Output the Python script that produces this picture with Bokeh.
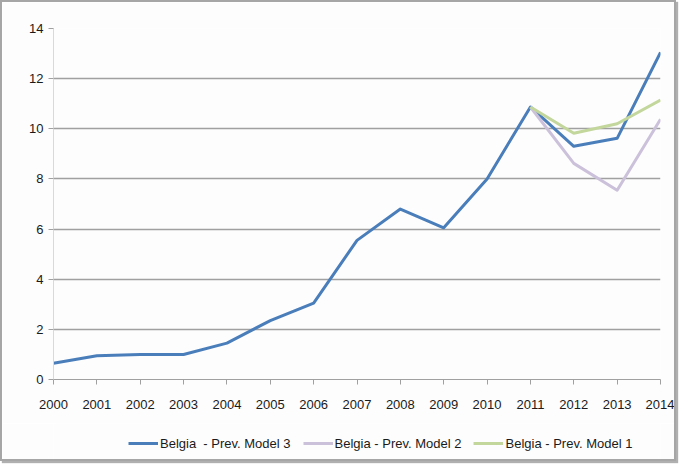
from bokeh.plotting import figure
from bokeh.models import FixedTicker, Legend, LegendItem, Range1d
from bokeh.layouts import column
from bokeh.embed import file_html
from bokeh.resources import INLINE

years = list(range(2000, 2015))
model3 = [0.65, 0.95, 1.0, 1.0, 1.45, 2.35, 3.05, 5.55, 6.8, 6.05, 8.0, 10.87, 9.3, 9.62, 13.05]
forecast_years = [2011, 2012, 2013, 2014]
model2 = [10.87, 8.62, 7.55, 10.38]
model1 = [10.87, 9.82, 10.2, 11.15]
y_ticks = [0, 2, 4, 6, 8, 10, 12, 14]
series_names = ["Belgia  - Prev. Model 3", "Belgia - Prev. Model 2", "Belgia - Prev. Model 1"]
series_colors = ["#4a7ebb", "#ccc1da", "#c3d69b"]

FONT = "Liberation Sans"
BG = "#fdfdfd"

p = figure(width=672, height=421, output_backend="svg", toolbar_location=None,
           x_range=Range1d(2000, 2014), y_range=Range1d(0, 14),
           min_border_left=51, min_border_right=14, min_border_top=26, min_border_bottom=44)
p.background_fill_color = BG
p.border_fill_color = BG
p.outline_line_color = None

p.line(years, model3, line_color=series_colors[0], line_width=3, line_join="round")
p.line(forecast_years, model2, line_color=series_colors[1], line_width=3, line_join="round")
p.line(forecast_years, model1, line_color=series_colors[2], line_width=3, line_join="round")

p.xaxis.ticker = FixedTicker(ticks=years)
p.yaxis.ticker = FixedTicker(ticks=y_ticks)
for ax in (p.xaxis[0], p.yaxis[0]):
    ax.major_label_text_font = FONT
    ax.major_label_text_font_size = "13px"
    ax.major_label_text_color = "#1a1a1a"
    ax.minor_tick_line_color = None
p.xaxis.axis_line_color = "#a0a0a0"
p.xaxis.major_tick_line_color = "#a0a0a0"
p.xaxis.major_tick_in = 0
p.xaxis.major_tick_out = 5
p.xaxis.major_label_standoff = 15
p.yaxis.axis_line_color = "#d9d9d9"
p.yaxis.major_tick_line_color = "#a0a0a0"
p.yaxis.major_tick_in = 0
p.yaxis.major_tick_out = 5
p.yaxis.major_label_standoff = 5

p.xgrid.grid_line_color = None
p.ygrid.grid_line_color = "#a0a0a0"
p.ygrid.grid_line_width = 1.5

# legend strip below the chart (series drawn out of its view, only for the legend keys)
lf = figure(width=672, height=36, output_backend="svg", toolbar_location=None,
            x_axis_location=None, y_axis_location=None,
            x_range=Range1d(0, 1), y_range=Range1d(0, 1),
            min_border_left=0, min_border_right=0, min_border_top=0, min_border_bottom=0)
lf.background_fill_color = BG
lf.border_fill_color = BG
lf.outline_line_color = None
lf.xgrid.grid_line_color = None
lf.ygrid.grid_line_color = None
items = []
for name, col, xs, ys in zip(series_names, series_colors,
                             [years, forecast_years, forecast_years], [model3, model2, model1]):
    r = lf.line(xs, ys, line_color=col, line_width=3)
    items.append(LegendItem(label=name, renderers=[r]))

legend = Legend(items=items, orientation="horizontal", location=(75, 8))
legend.label_text_font = FONT
legend.label_text_font_size = "13px"
legend.label_text_color = "#1a1a1a"
legend.glyph_width = 30
legend.glyph_height = 16
legend.spacing = 12
legend.label_standoff = 2
legend.border_line_color = None
legend.background_fill_alpha = 0
legend.padding = 0
legend.margin = 0
lf.add_layout(legend, "center")

layout = column(p, lf, spacing=0)
layout.styles = {"border": "2px solid #a6a6a6", "box-shadow": "2px 2px 1px #b0b0b0"}

open("out.html", "w").write(file_html(layout, INLINE))
